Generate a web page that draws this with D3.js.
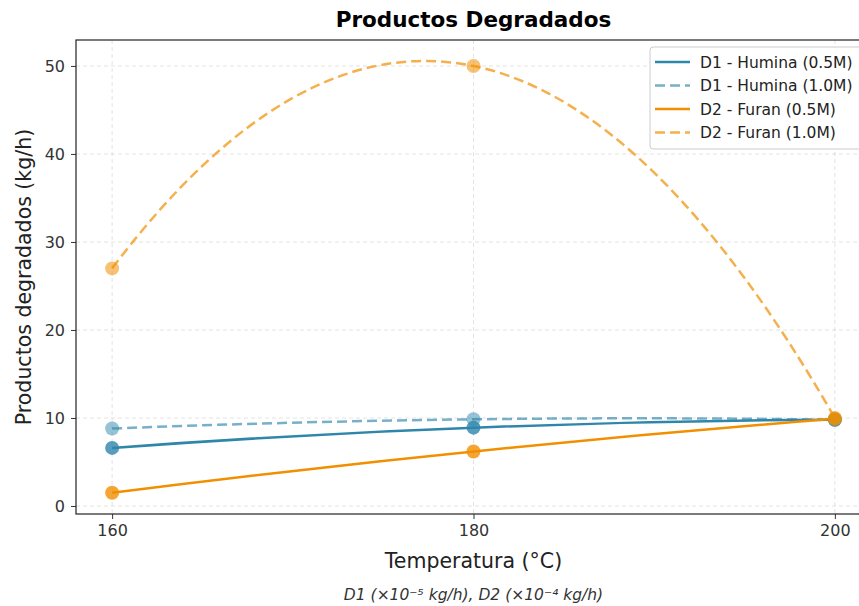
<!DOCTYPE html>
<html>
<head>
<meta charset="utf-8">
<script src="https://cdn.jsdelivr.net/npm/d3@7"></script>
<style>
  body { margin: 0; background: #fff; }
  svg { font-family: "DejaVu Sans", sans-serif; }
  .grid line { stroke: #b0b0b0; stroke-opacity: 0.35; stroke-dasharray: 4,3; }
  .axis path, .axis line { stroke: #333; }
</style>
</head>
<body>
<svg id="chart" width="859" height="606"></svg>
<script>
const temps = [160, 180, 200];
const xTicks = [160, 180, 200];
const yTicks = [0, 10, 20, 30, 40, 50];

const seriesNames = ["D1 - Humina (0.5M)", "D1 - Humina (1.0M)", "D2 - Furan (0.5M)", "D2 - Furan (1.0M)"];
const humina05 = [6.6, 8.9, 9.8];
const humina10 = [8.8, 9.85, 9.8];
const furan05 = [1.5, 6.2, 9.9];
const furan10 = [27.0, 50.0, 10.0];

const series = [
  {name: seriesNames[0], values: humina05, color: "#2E86AB", dash: null, alpha: 1, dotAlpha: 0.8},
  {name: seriesNames[1], values: humina10, color: "#2E86AB", dash: "10,5", alpha: 0.65, dotAlpha: 0.5},
  {name: seriesNames[2], values: furan05, color: "#F18F01", dash: null, alpha: 1, dotAlpha: 0.8},
  {name: seriesNames[3], values: furan10, color: "#F18F01", dash: "10,5", alpha: 0.7, dotAlpha: 0.55}
];

const svg = d3.select("#chart");
const pl = 76, pr = 871, pt = 40, pb = 514;

const x = d3.scaleLinear().domain([158, 202]).range([pl, pr]);
const y = d3.scaleLinear().domain([-0.91, 52.95]).range([pb, pt]);

// parabola through three evenly spaced points drawn as a quadratic bezier
function curveQuad(context) {
  let pts = [];
  return {
    lineStart() { pts = []; },
    lineEnd() {
      if (pts.length === 3) {
        const [p0, p1, p2] = pts;
        context.moveTo(p0[0], p0[1]);
        context.quadraticCurveTo(p1[0], 2 * p1[1] - (p0[1] + p2[1]) / 2, p2[0], p2[1]);
      } else {
        pts.forEach((p, i) => i ? context.lineTo(p[0], p[1]) : context.moveTo(p[0], p[1]));
      }
    },
    point(px, py) { pts.push([px, py]); },
    areaStart() {}, areaEnd() {}
  };
}

svg.append("clipPath").attr("id", "plotclip")
  .append("rect").attr("x", pl).attr("y", pt).attr("width", pr - pl).attr("height", pb - pt);

// grid
const grid = svg.append("g").attr("class", "grid");
grid.selectAll(".gx").data(xTicks).enter().append("line")
  .attr("x1", d => x(d)).attr("x2", d => x(d)).attr("y1", pt).attr("y2", pb);
grid.selectAll(".gy").data(yTicks).enter().append("line")
  .attr("x1", pl).attr("x2", pr).attr("y1", d => y(d)).attr("y2", d => y(d));

const line = d3.line()
  .x((d, i) => x(temps[i]))
  .y(d => y(d))
  .curve(curveQuad);

const plot = svg.append("g").attr("clip-path", "url(#plotclip)");

series.forEach(s => {
  plot.append("path")
    .datum(s.values)
    .attr("fill", "none")
    .attr("stroke", s.color)
    .attr("stroke-opacity", s.alpha)
    .attr("stroke-width", 2.5)
    .attr("stroke-dasharray", s.dash)
    .attr("d", line);
});

series.forEach(s => {
  plot.selectAll(null)
    .data(s.values)
    .enter().append("circle")
      .attr("cx", (d, i) => x(temps[i]))
      .attr("cy", d => y(d))
      .attr("r", 7)
      .attr("fill", s.color)
      .attr("fill-opacity", s.dotAlpha);
});

// axes
function styleTicks(g) {
  g.select(".domain").remove();
  g.attr("font-family", null).attr("font-size", null);
  g.selectAll("text").attr("font-size", 16).attr("fill", "#333");
}

svg.append("g")
  .attr("class", "axis")
  .attr("transform", `translate(0,${pb})`)
  .call(d3.axisBottom(x).tickValues(xTicks).tickSize(5).tickPadding(6).tickFormat(d3.format("d")))
  .call(styleTicks);

svg.append("g")
  .attr("class", "axis")
  .attr("transform", `translate(${pl},0)`)
  .call(d3.axisLeft(y).tickValues(yTicks).tickSize(5).tickPadding(6).tickFormat(d3.format("d")))
  .call(styleTicks);

svg.append("rect")
  .attr("x", pl).attr("y", pt)
  .attr("width", pr - pl).attr("height", pb - pt)
  .attr("fill", "none").attr("stroke", "#222").attr("stroke-width", 1.2);

// labels
svg.append("text")
  .attr("x", (pl + pr) / 2).attr("y", 27)
  .attr("text-anchor", "middle")
  .attr("font-size", 21.5).attr("font-weight", "bold")
  .text("Productos Degradados");

svg.append("text")
  .attr("x", (pl + pr) / 2).attr("y", 568)
  .attr("text-anchor", "middle")
  .attr("font-size", 20.5).attr("fill", "#222")
  .text("Temperatura (°C)");

svg.append("text")
  .attr("transform", `translate(31,${(pt + pb) / 2}) rotate(-90)`)
  .attr("text-anchor", "middle")
  .attr("font-size", 20.5).attr("fill", "#222")
  .text("Productos degradados (kg/h)");

svg.append("text")
  .attr("x", (pl + pr) / 2).attr("y", 600)
  .attr("text-anchor", "middle")
  .attr("font-size", 15.5).attr("font-style", "italic").attr("fill", "#333")
  .text("D1 (×10⁻⁵ kg/h), D2 (×10⁻⁴ kg/h)");

// legend
const legend = svg.append("g").attr("transform", "translate(650,47)");
legend.append("rect")
  .attr("width", 220).attr("height", 102).attr("rx", 3)
  .attr("fill", "#fff").attr("fill-opacity", 0.85)
  .attr("stroke", "#ccc");

const item = legend.selectAll(".item").data(series).enter().append("g")
  .attr("transform", (d, i) => `translate(0,${15 + i * 23.5})`);
item.append("line")
  .attr("x1", 5).attr("x2", 40)
  .attr("stroke", d => d.color)
  .attr("stroke-opacity", d => d.alpha)
  .attr("stroke-width", 2.5)
  .attr("stroke-dasharray", d => d.dash);
item.append("text")
  .attr("x", 50).attr("y", 5.5)
  .attr("font-size", 15.5).attr("fill", "#222")
  .text(d => d.name);
</script>
</body>
</html>
